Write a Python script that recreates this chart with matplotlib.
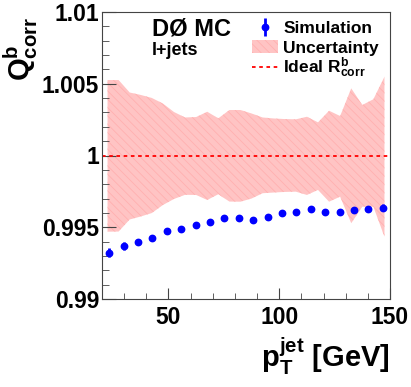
import numpy as np
import matplotlib
matplotlib.use("Agg")
import matplotlib.pyplot as plt
from matplotlib.ticker import MultipleLocator

# Simulation points (bin centres, 6.5 GeV bins starting at 20 GeV)
pt = [23.25, 29.75, 36.25, 42.75, 49.25, 55.75, 62.25, 68.75, 75.25, 81.75,
      88.25, 94.75, 101.25, 107.75, 114.25, 120.75, 127.25, 133.75, 140.25, 146.75]
q_corr = [0.99323, 0.99369, 0.99397, 0.99427, 0.99476, 0.99486, 0.99518, 0.99539,
          0.99564, 0.99564, 0.99548, 0.99571, 0.99597, 0.99604, 0.99625, 0.99606,
          0.99608, 0.99620, 0.99627, 0.99636]
q_err = [0.0003, 0.00025, 0.00022, 0.00015, 0.00012, 0.00012, 0.0001, 0.0001,
         0.0001, 0.0001, 0.0001, 0.0001, 0.00012, 0.00012, 0.00014, 0.00016,
         0.0002, 0.0002, 0.00022, 0.00024]

# Uncertainty band
band_pt = [22.5, 27.5, 32.5, 37.5, 42.5, 47.5, 52.5, 57.5, 62.5, 67.5, 72.5, 77.5, 82.5,
           87.5, 92.5, 97.5, 102.5, 107.5, 112.5, 117.5, 122.5, 127.5, 132.5, 137.5,
           142.5, 147.5]
band_hi = [1.00526, 1.00526, 1.00439, 1.00422, 1.00401, 1.00362, 1.00303, 1.00265,
           1.00268, 1.00305, 1.00259, 1.00317, 1.00317, 1.00293, 1.00265, 1.00258,
           1.00254, 1.00252, 1.00270, 1.00231, 1.00312, 1.00275, 1.00468, 1.00352,
           1.00392, 1.00549]
band_lo = [0.99469, 0.99470, 0.99554, 0.99575, 0.99599, 0.99655, 0.99697, 0.99726,
           0.99725, 0.99690, 0.99730, 0.99679, 0.99678, 0.99700, 0.99737, 0.99742,
           0.99746, 0.99748, 0.99725, 0.99760, 0.99678, 0.99713, 0.99528, 0.99643,
           0.99643, 0.99434]

plt.rcParams['font.family'] = ['Liberation Sans', 'DejaVu Sans']
plt.rcParams['font.weight'] = 'bold'
plt.rcParams['axes.labelweight'] = 'bold'
plt.rcParams['mathtext.fontset'] = 'custom'
plt.rcParams['mathtext.rm'] = 'Liberation Sans:bold'
plt.rcParams['mathtext.it'] = 'Liberation Sans:bold'
plt.rcParams['mathtext.bf'] = 'Liberation Sans:bold'
plt.rcParams['mathtext.default'] = 'rm'
plt.rcParams['hatch.linewidth'] = 0.6

fig = plt.figure(figsize=(4.11, 3.87), dpi=100)
ax = fig.add_axes([102 / 411, 1 - 299 / 387, 288 / 411, 287 / 387])

band = ax.fill_between(band_pt, band_lo, band_hi, facecolor='#ffc4c4',
                       edgecolor='#ffb0b0', hatch='\\\\\\\\', linewidth=0,
                       label='Uncertainty')
ideal, = ax.plot([20, 150], [1.0, 1.0], color='red', linestyle=(0, (2, 2)),
                 linewidth=1.3, label=r'Ideal $R^{b}_{corr}$')
sim = ax.errorbar(pt, q_corr, yerr=q_err, fmt='o', color='blue', markersize=4.6,
                  elinewidth=2, capsize=0, label='Simulation')

ax.set_xlim(20, 150)
ax.set_ylim(0.99, 1.01)
ax.set_yticks([0.99, 0.995, 1.0, 1.005, 1.01])
ax.set_yticklabels(['0.99', '0.995', '1', '1.005', '1.01'])
ax.set_xticks([50, 100, 150])
ax.xaxis.set_minor_locator(MultipleLocator(10))
ax.yaxis.set_minor_locator(MultipleLocator(0.001))
ax.tick_params(which='both', direction='in', top=False, right=False,
               labelsize=16.5, color='#444444')
ax.tick_params(axis='x', which='major', length=8, pad=5)
ax.tick_params(axis='x', which='minor', length=4)
ax.tick_params(axis='y', which='major', length=10, pad=2)
ax.tick_params(axis='y', which='minor', length=5)
for s in ax.spines.values():
    s.set_color('#444444')

ax.set_ylabel(r'$Q^{b}_{corr}$', fontsize=21, loc='top')
ax.yaxis.set_label_coords(-0.215, 1 - 5 / 287)
ax.set_xlabel(r'$p^{jet}_{T}$ [GeV]', fontsize=21, loc='right', labelpad=5)

fig.text(152 / 411, 1 - 18 / 387, 'DØ MC', fontsize=17, fontweight='bold', va='top')
fig.text(152 / 411, 1 - 42 / 387, 'l+jets', fontsize=13, fontweight='bold', va='top')

leg_kw = dict(bbox_transform=fig.transFigure, frameon=False, fontsize=12.5,
              handlelength=1.5, handletextpad=0.3, borderpad=0, borderaxespad=0)
leg1 = ax.legend([sim, band], ['Simulation', 'Uncertainty'], loc='upper left',
                 bbox_to_anchor=(252 / 411, 1 - 21 / 387), labelspacing=0.25, **leg_kw)
ax.add_artist(leg1)
ax.legend([ideal], [r'Ideal $R^{b}_{corr}$'], loc='center left',
          bbox_to_anchor=(252 / 411, 1 - 68 / 387), **leg_kw)

fig.savefig('out.png', dpi=100)
